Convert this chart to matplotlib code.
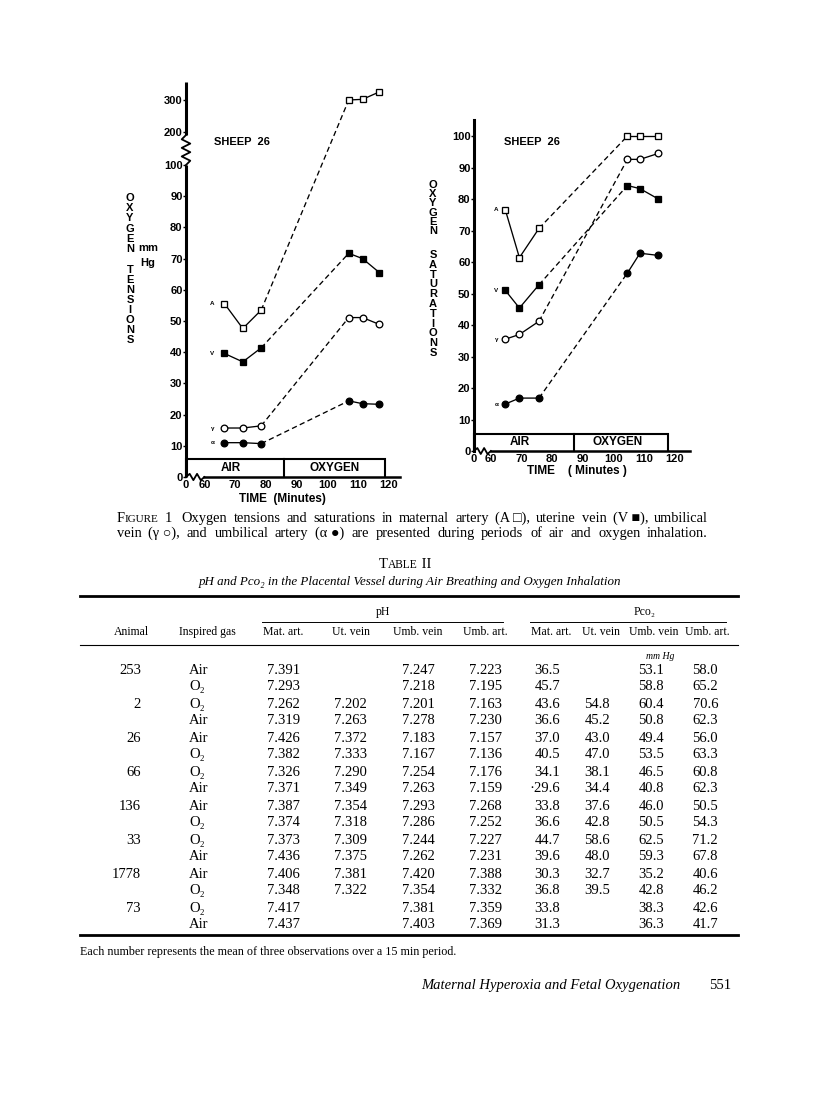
import numpy as np
import matplotlib.pyplot as plt
from matplotlib.ticker import NullLocator

plt.rcParams['font.family'] = ['Liberation Sans', 'DejaVu Sans']
plt.rcParams['font.weight'] = 'bold'

W, H = 816, 1100

# ---- figure 1 data ----
names = ['A', 'V', 'γ', 'α']
marks = ['s', 's', 'o', 'o']
filled = [False, True, False, True]

tens_time = [66.5, 72.5, 78.5, 107, 111.5, 117]
tens_A = [55.6, 47.6, 53.5, 300, 302, 325]
tens_V = [39.6, 36.9, 41.4, 71.7, 70.0, 65.5]
tens_g = [15.7, 15.7, 16.4, 51.1, 51.1, 48.9]
tens_a = [11.0, 11.0, 10.7, 24.4, 23.5, 23.3]

sat_time = [64.7, 69.3, 75.7, 104.5, 108.6, 114.6]
sat_A = [76.6, 61.4, 70.7, 100, 100, 100]
sat_V = [51.0, 45.4, 52.8, 84.3, 83.3, 80.0]
sat_g = [35.5, 37.0, 41.2, 92.6, 92.6, 94.5]
sat_a = [14.9, 16.8, 16.8, 56.5, 62.8, 62.1]

tens_yticks = [0, 10, 20, 30, 40, 50, 60, 70, 80, 90, 100, 200, 300]
sat_yticks = [0, 10, 20, 30, 40, 50, 60, 70, 80, 90, 100]
time_ticks = [0, 60, 70, 80, 90, 100, 110, 120]

# air / oxygen periods (end of air, end of oxygen)
tens_periods = (86, 118.8)
sat_periods = (87.1, 117.7)

# ---- table II ----
animals = ['253', '2', '26', '66', '136', '33', '1778', '73']
gases = ['Air', 'O₂', 'O₂', 'Air', 'Air', 'O₂', 'O₂', 'Air', 'Air', 'O₂',
         'O₂', 'Air', 'Air', 'O₂', 'O₂', 'Air']
ph_mat = ['7.391', '7.293', '7.262', '7.319', '7.426', '7.382', '7.326', '7.371',
          '7.387', '7.374', '7.373', '7.436', '7.406', '7.348', '7.417', '7.437']
ph_ut = ['', '', '7.202', '7.263', '7.372', '7.333', '7.290', '7.349',
         '7.354', '7.318', '7.309', '7.375', '7.381', '7.322', '', '']
ph_umbv = ['7.247', '7.218', '7.201', '7.278', '7.183', '7.167', '7.254', '7.263',
           '7.293', '7.286', '7.244', '7.262', '7.420', '7.354', '7.381', '7.403']
ph_umba = ['7.223', '7.195', '7.163', '7.230', '7.157', '7.136', '7.176', '7.159',
           '7.268', '7.252', '7.227', '7.231', '7.388', '7.332', '7.359', '7.369']
pco_mat = ['36.5', '45.7', '43.6', '36.6', '37.0', '40.5', '34.1', '·29.6',
           '33.8', '36.6', '44.7', '39.6', '30.3', '36.8', '33.8', '31.3']
pco_ut = ['', '', '54.8', '45.2', '43.0', '47.0', '38.1', '34.4',
          '37.6', '42.8', '58.6', '48.0', '32.7', '39.5', '', '']
pco_umbv = ['53.1', '58.8', '60.4', '50.8', '49.4', '53.5', '46.5', '40.8',
            '46.0', '50.5', '62.5', '59.3', '35.2', '42.8', '38.3', '36.3']
pco_umba = ['58.0', '65.2', '70.6', '62.3', '56.0', '63.3', '60.8', '62.3',
            '50.5', '54.3', '71.2', '67.8', '40.6', '46.2', '42.6', '41.7']
col_heads = ['Mat. art.', 'Ut. vein', 'Umb. vein', 'Umb. art.']


def P(x, y):
    return x / W, 1 - y / H


fig = plt.figure(figsize=(W / 100, H / 100), dpi=100)
fig.patch.set_facecolor('white')
SERIF = ['Liberation Serif', 'DejaVu Serif']


def xscale_funcs(gap):
    def fwd(x):
        x = np.asarray(x, float)
        return np.where(x < 60, 60 - gap + x * gap / 60, x)

    def inv(x):
        x = np.asarray(x, float)
        return np.where(x < 60, (x - (60 - gap)) * 60 / gap, x)
    return fwd, inv


def fwd_t(y):
    y = np.asarray(y, float)
    return np.where(y <= 100, y, 100 + (y - 100) / 9.6)


def inv_t(y):
    y = np.asarray(y, float)
    return np.where(y <= 100, y, 100 + (y - 100) * 9.6)


def draw_lines(ax, t, ys, lab_off):
    for name, y, m, f in zip(names, ys, marks, filled):
        ax.plot(t[:3], y[:3], '-', color='k', lw=0.95, clip_on=False)
        ax.plot(t[2:4], y[2:4], color='k', lw=0.95, ls=(0, (4, 2.5)), clip_on=False)
        ax.plot(t[3:], y[3:], '-', color='k', lw=0.95, clip_on=False)
        ax.plot(t, y, ls='none', marker=m, ms=4.8, mew=0.95, mec='k',
                mfc='k' if f else 'white', clip_on=False, zorder=5)
        ax.annotate(name, (t[0], y[0]), xytext=(-lab_off, 0), textcoords='offset points',
                    fontsize=4.5, ha='center', va='center')


def period_box(ax, periods, h, air_x, oxy_x):
    air_end, oxy_end = periods
    ax.plot([0, 0, oxy_end, oxy_end], [0, h, h, 0], color='k', lw=1.5, clip_on=False,
            solid_joinstyle='miter')
    ax.plot([air_end, air_end], [0, h], color='k', lw=1.5, clip_on=False)
    ax.text(air_x, h / 2, 'AIR', fontsize=8.5, ha='center', va='center')
    ax.text(oxy_x, h / 2, 'OXYGEN', fontsize=8.5, ha='center', va='center')


def x_axis_line(ax, gap, x_end, amp):
    fwd, inv = xscale_funcs(gap)
    tr = ax.get_xaxis_transform()
    xs_t = np.linspace(60 - gap, 60, 6)
    zig = [0, amp, -amp, amp, -amp, 0]
    ax.plot(inv(xs_t), zig, color='k', lw=1.3, transform=tr, clip_on=False)
    ax.plot([60, x_end], [0, 0], color='k', lw=1.8, transform=tr, clip_on=False)


def style_axes(ax):
    for s in ['top', 'right', 'bottom']:
        ax.spines[s].set_visible(False)
    ax.set_facecolor('none')
    ax.xaxis.set_minor_locator(NullLocator())
    ax.yaxis.set_minor_locator(NullLocator())
    ax.tick_params(axis='y', length=2, width=1, pad=0.5, labelsize=8)
    ax.tick_params(axis='x', length=0, pad=2.5, labelsize=8)


# ---------------- left: oxygen tensions ----------------
ax1 = fig.add_axes([186 / W, 1 - 477 / H, (400 - 186) / W, (477 - 82) / H])
ax1.set_xscale('function', functions=xscale_funcs(6))
ax1.set_yscale('function', functions=(fwd_t, inv_t))
draw_lines(ax1, tens_time, [tens_A, tens_V, tens_g, tens_a], 8.6)
period_box(ax1, tens_periods, 5.8, 68.7, 102.4)
ax1.set_xlim(0, 123.7)
ax1.set_ylim(0, float(inv_t(126.6)))
style_axes(ax1)
ax1.spines['left'].set_visible(False)
ax1.set_yticks(tens_yticks)
ax1.set_xticks(time_ticks)
# y axis with break between 100 and 200
ytr = ax1.get_yaxis_transform()
ax1.plot([0, 0], [0, 100], color='k', lw=2.2, transform=ytr, clip_on=False,
         solid_capstyle='butt')
zz_t = np.linspace(100, 109.6, 8)
zz_x = [0, 0.02, -0.02, 0.02, -0.02, 0.02, -0.02, 0]
ax1.plot(zz_x, inv_t(zz_t), color='k', lw=1.3, transform=ytr, clip_on=False)
ax1.plot([0, 0], [float(inv_t(109.6)), float(inv_t(126.6))], color='k', lw=2.2,
         transform=ytr, clip_on=False, solid_capstyle='butt')
x_axis_line(ax1, 6, 123.7, 0.008)
ax1.text(0.13, 0.848, 'SHEEP  26', transform=ax1.transAxes, fontsize=8, va='center')

# ---------------- right: oxygen saturations ----------------
ax2 = fig.add_axes([474 / W, 1 - 451 / H, (690 - 474) / W, (451 - 120) / H])
ax2.set_xscale('function', functions=xscale_funcs(5.5))
draw_lines(ax2, sat_time, [sat_A, sat_V, sat_g, sat_a], 6.5)
period_box(ax2, sat_periods, 5.4, 69.5, 101.4)
ax2.set_xlim(0, 124.9)
ax2.set_ylim(0, 105.1)
style_axes(ax2)
ax2.spines['left'].set_linewidth(2.2)
ax2.set_yticks(sat_yticks)
ax2.set_xticks(time_ticks)
x_axis_line(ax2, 5.5, 124.9, 0.009)
ax2.text(0.14, 0.935, 'SHEEP  26', transform=ax2.transAxes, fontsize=8, va='center')

# axis titles
fig.text(*P(282, 499), 'TIME  (Minutes)', fontsize=8.5, ha='center', va='center')
fig.text(*P(577, 471), 'TIME    ( Minutes )', fontsize=8.5, ha='center', va='center')


def stack(word, x, y0, step):
    for i, ch in enumerate(word):
        fig.text(*P(x, y0 + i * step), ch, fontsize=8, ha='center', va='center')


stack('OXYGEN', 130, 198, 10.2)
stack('TENSIONS', 130, 270, 10.0)
fig.text(*P(148, 248), 'mm', fontsize=8, ha='center', va='center')
fig.text(*P(148, 263), 'Hg', fontsize=8, ha='center', va='center')
stack('OXYGEN', 433, 185, 9.2)
stack('SATURATIONS', 433, 255, 9.8)

# ---------------- caption & table ----------------
renderer = fig.canvas.get_renderer()


def justify(words, x0, x1, y, size, style='normal'):
    # words: list of strings or lists of (text, size) parts
    parts_all = []
    widths = []
    for w in words:
        segs = w if isinstance(w, list) else [(w, size)]
        items = []
        tot = 0
        for txt, sz in segs:
            t = fig.text(0, 0, txt, fontsize=sz, family=SERIF, weight='normal',
                         style=style, va='baseline')
            wd = t.get_window_extent(renderer).width
            items.append((t, wd))
            tot += wd
        parts_all.append(items)
        widths.append(tot)
    gap = (x1 - x0 - sum(widths)) / (len(words) - 1)
    x = x0
    for items, wd in zip(parts_all, widths):
        xx = x
        for t, w in items:
            t.set_position(P(xx, y))
            xx += w
        x += wd + gap


def text_s(x, y, s, size, ha='center', style='normal'):
    fig.text(*P(x, y), s, fontsize=size, ha=ha, va='baseline', family=SERIF,
             weight='normal', style=style)


cap1 = [[('F', 10.4), ('IGURE', 8)], '1 ', 'Oxygen', 'tensions', 'and', 'saturations', 'in',
        'maternal', 'artery', '(A □),', 'uterine', 'vein', '(V ■),', 'umbilical']
cap2 = ['vein', '(γ ○),', 'and', 'umbilical', 'artery', '(α ●)', 'are', 'presented',
        'during', 'periods', 'of', 'air', 'and', 'oxygen', 'inhalation.']
justify(cap1, 117, 708, 522, 10.4)
justify(cap2, 117, 708, 537, 10.4)

t_cap = [('T', 10.5), ('ABLE', 8.3), (' II', 10.5)]
xx = 379
for txt, sz in t_cap:
    t = fig.text(*P(xx, 568), txt, fontsize=sz, family=SERIF, weight='normal', va='baseline')
    xx += t.get_window_extent(renderer).width
text_s(410, 585, 'pH and Pco₂ in the Placental Vessel during Air Breathing and Oxygen Inhalation',
       9.4, style='italic')

rule_kw = dict(color='k', transform=fig.transFigure)
fig.add_artist(plt.Line2D([80 / W, 738 / W], [1 - 596 / H] * 2, lw=2.0, **rule_kw))
fig.add_artist(plt.Line2D([80 / W, 738 / W], [1 - 645 / H] * 2, lw=0.8, **rule_kw))
fig.add_artist(plt.Line2D([262 / W, 503 / W], [1 - 622 / H] * 2, lw=0.7, **rule_kw))
fig.add_artist(plt.Line2D([530 / W, 726 / W], [1 - 622 / H] * 2, lw=0.7, **rule_kw))
fig.add_artist(plt.Line2D([80 / W, 738 / W], [1 - 935 / H] * 2, lw=2.0, **rule_kw))

text_s(383, 615, 'pH', 8.5)
text_s(645, 615, 'Pco₂', 8.5)
text_s(131, 635, 'Animal', 8.5)
text_s(207, 635, 'Inspired gas', 8.5)
for x, h in zip([283, 351, 418, 485, 551, 601, 654, 707], col_heads * 2):
    text_s(x, 635, h, 8.5)
text_s(660, 659, 'mm Hg', 7, style='italic')

row_y = []
for g in range(8):
    row_y += [674 + 34 * g, 690 + 34 * g]
for g, a in enumerate(animals):
    text_s(141, row_y[2 * g], a, 10.5, ha='right')
cols = [ph_mat, ph_ut, ph_umbv, ph_umba, pco_mat, pco_ut, pco_umbv, pco_umba]
rights = [300, 367, 435, 502, 560, 610, 664, 718]
for i, y in enumerate(row_y):
    text_s(189, y, gases[i], 10.5, ha='left')
    for col, xr in zip(cols, rights):
        if col[i]:
            text_s(xr, y, col[i], 10.5, ha='right')

text_s(80, 955, 'Each number represents the mean of three observations over a 15 min period.',
       8.7, ha='left')
text_s(680, 989, 'Maternal Hyperoxia and Fetal Oxygenation', 10.5, ha='right', style='italic')
text_s(731, 989, '551', 10.5, ha='right')

fig.savefig('out.png', dpi=100)
